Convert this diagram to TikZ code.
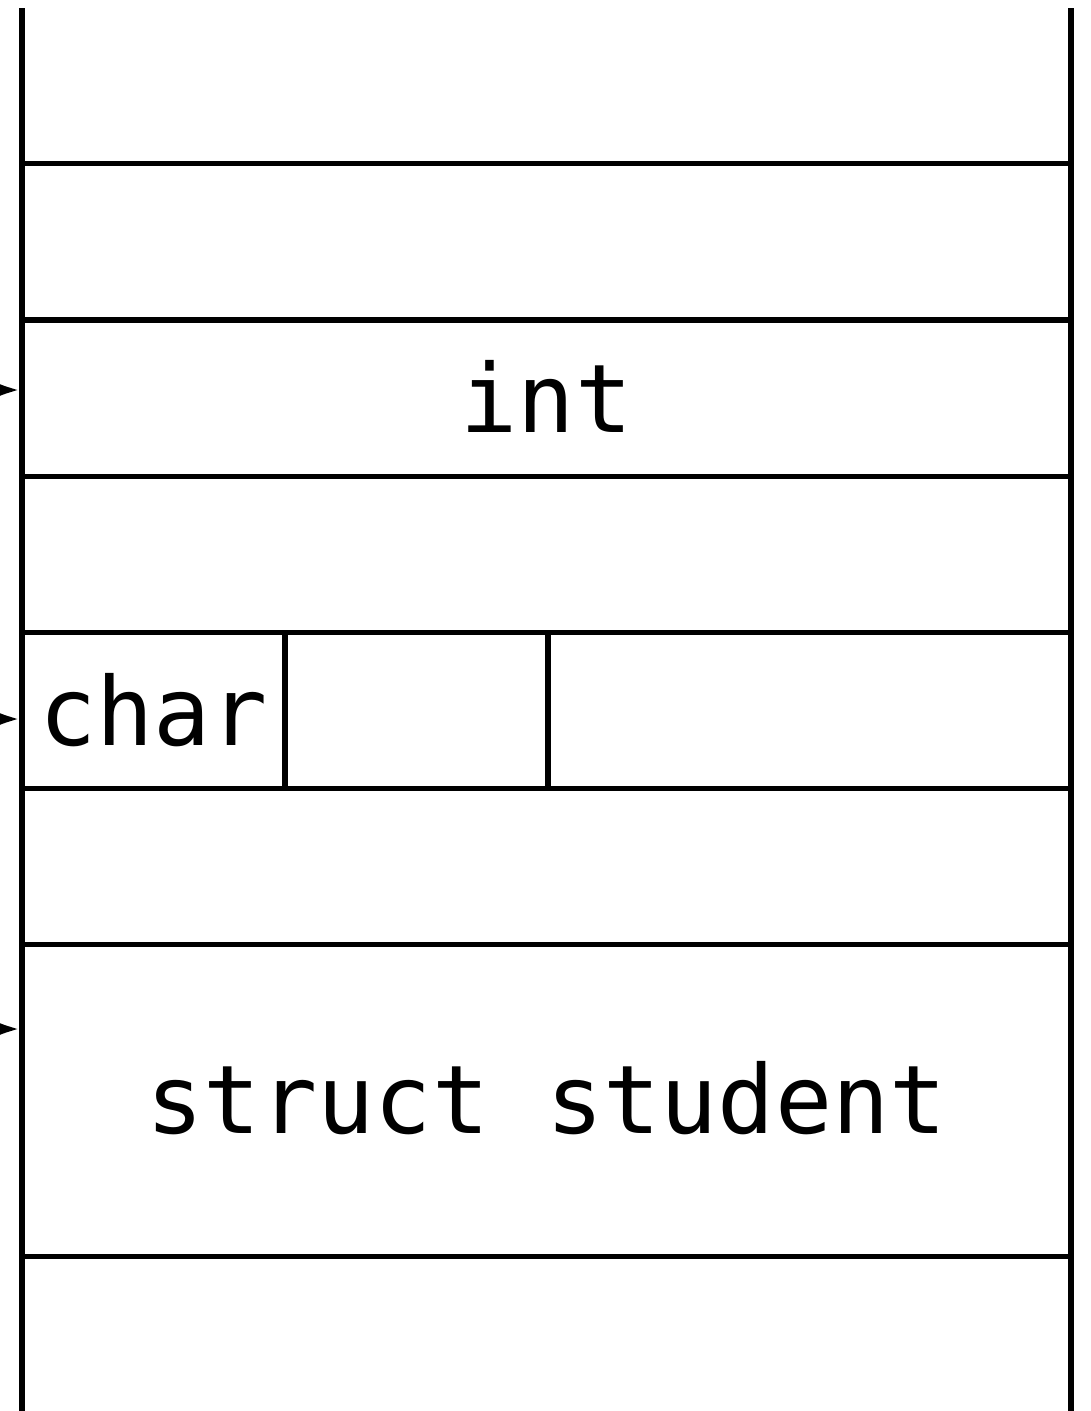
\documentclass[tikz,border=0pt]{standalone}
\usepackage{fontspec}
\setmonofont{DejaVu Sans Mono}
\usetikzlibrary{arrows.meta}

\tikzset{
  memline/.style={black, line width=1.5pt},
  memtext/.style={anchor=base, inner sep=0pt, font=\ttfamily\fontsize{27pt}{30pt}\selectfont},
  ptr/.style={memline, -{Latex[length=9pt,width=7pt]}}
}

\begin{document}
\begin{tikzpicture}[x=0.01cm, y=-0.01cm]
  \clip (0,0) rectangle (1091,1411);
  % the two sides of the memory column
  \coordinate (topL) at (22,8);
  \coordinate (botL) at (22,1430);
  \coordinate (topR) at (1071,8);
  \coordinate (botR) at (1071,1430);
  \draw[memline] (topL) -- (botL);
  \draw[memline] (topR) -- (botR);
  % row borders
  \foreach \y in {163.3, 320, 476.7, 632.3, 788.3, 944.3, 1256.7}
    \draw[memline] (22,\y) -- (1071,\y);
  % bytes after the char
  \draw[memline] (285,632.3) -- (285,788.3);
  \draw[memline] (548,632.3) -- (548,788.3);
  % cell labels
  \node[memtext] (int) at (546.5,432) {int};
  \node[memtext] (char) at (153.5,745) {char};
  \node[memtext] (student) at (546.5,1133) {struct student};
  % pointers coming in from the left
  \coordinate (pInt) at (-80,390);
  \coordinate (pChar) at (-80,719);
  \coordinate (pStudent) at (-80,1029);
  \draw[ptr] (pInt) -- (19,390);
  \draw[ptr] (pChar) -- (19,719);
  \draw[ptr] (pStudent) -- (19,1029);
\end{tikzpicture}
\end{document}
